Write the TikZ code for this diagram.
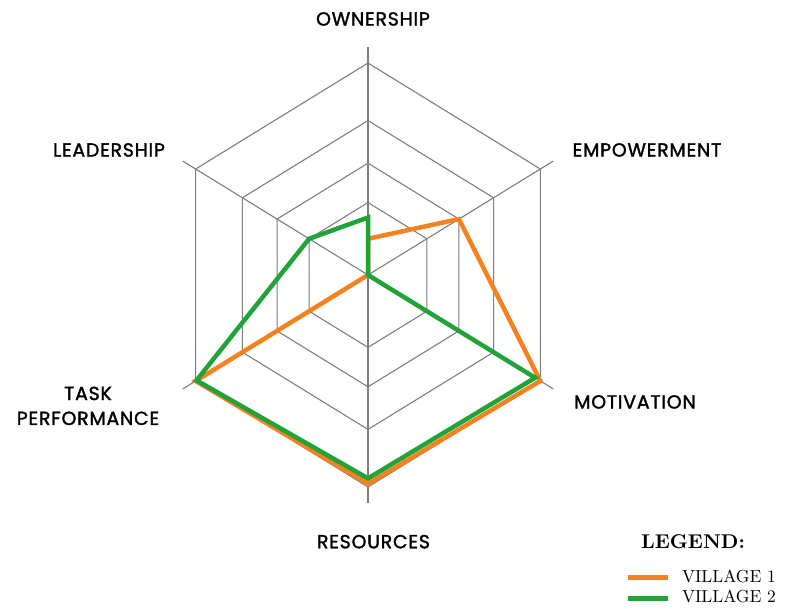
\documentclass[tikz,border=0pt]{standalone}
\usepackage{fontspec}
\newfontfamily\labelfont{Poppins}[FakeBold=1.6, LetterSpace=4]
\newfontfamily\legendfont{lmroman10-regular.otf}[BoldFont=lmroman10-bold.otf]
\definecolor{villageone}{HTML}{F5821F}
\definecolor{villagetwo}{HTML}{20A43A}
\definecolor{gridgray}{HTML}{7E7E7E}

\begin{document}
\begin{tikzpicture}[x=1bp, y=1.065bp, thick,
  grid/.style={draw=gridgray, line width=1.1bp},
  village1/.style={draw=villageone, line width=4.5bp},
  village2/.style={draw=villagetwo, line width=4.5bp},
  axis label/.style={font=\labelfont\fontsize{19}{25}\selectfont, align=center, inner sep=0pt},
  legend text/.style={font=\legendfont\fontsize{17.5}{20}\selectfont, anchor=west, inner sep=0pt}]

\useasboundingbox (-368,-314.6) rectangle (418,258.2);

% Netz
\foreach \r in {68,105,145,199}{
	\draw[grid] (90:\r) -- (30:\r) -- (-30:\r) -- (-90:\r) -- (-150:\r) -- (150:\r) -- cycle;
}
\foreach \a in {90,30,-30,-90,-150,150}{
	\draw[grid] (0,0) -- (\a:214);
}

% Achsenbeschriftung
\node[axis label] (own) at (5,240.4) {OWNERSHIP};
\node[axis label] (emp) at (279,117.4) {EMPOWERMENT};
\node[axis label] (mot) at (267,-119.2) {MOTIVATION};
\node[axis label] (res) at (5.5,-250.4) {RESOURCES};
\node[axis label] (task) at (-280,-122.9) {TASK\\PERFORMANCE};
\node[axis label] (lead) at (-259,117.4) {LEADERSHIP};

% Werte Village 1
\coordinate (v1own) at (90:34);
\coordinate (v1emp) at (30:105);
\coordinate (v1mot) at (-30:199);
\coordinate (v1res) at (-90:196);
\coordinate (v1task) at (-150:199);
\coordinate (v1lead) at (150:0);
\draw[village1] (v1own) -- (v1emp) -- (v1mot) -- (v1res) -- (v1task) -- (v1lead) -- cycle;

% Werte Village 2
\coordinate (v2own) at (90:54);
\coordinate (v2emp) at (30:0);
\coordinate (v2mot) at (-30:193);
\coordinate (v2res) at (-90:191);
\coordinate (v2task) at (-150:198);
\coordinate (v2lead) at (150:68);
\draw[village2] (v2own) -- (v2emp) -- (v2mot) -- (v2res) -- (v2task) -- (v2lead) -- cycle;

% Legende
\node[font=\legendfont\bfseries\fontsize{20}{24}\selectfont] (legend) at (325,-250.5) {LEGEND:};
\coordinate (l1a) at (260.3,-284.2);
\coordinate (l1b) at (300.3,-284.2);
\coordinate (l2a) at (260.3,-303.6);
\coordinate (l2b) at (300.3,-303.6);
\draw[village1] (l1a) -- (l1b);
\draw[village2] (l2a) -- (l2b);
\node[legend text] (leg1) at (313.7,-282.6) {VILLAGE 1};
\node[legend text] (leg2) at (313.7,-302.1) {VILLAGE 2};
\end{tikzpicture}
\end{document}
